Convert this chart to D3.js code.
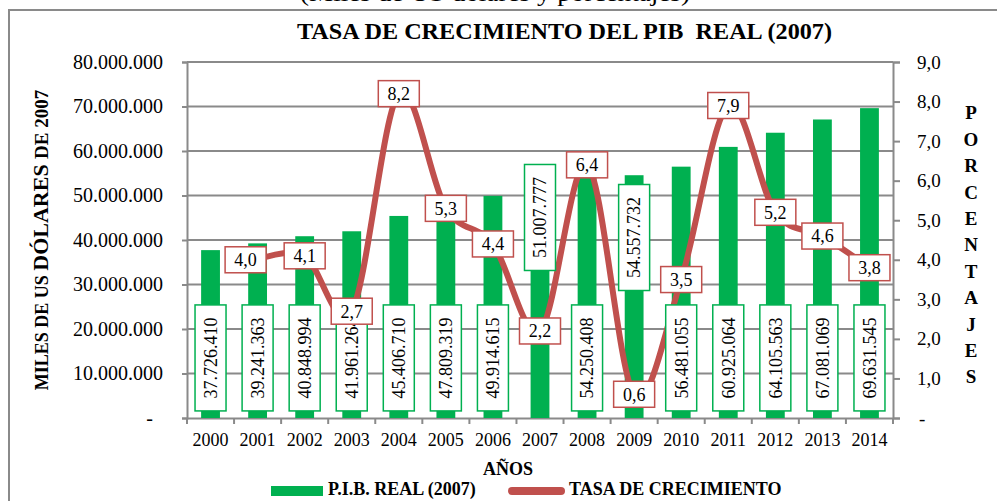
<!DOCTYPE html>
<html>
<head>
<meta charset="utf-8">
<script src="https://cdn.jsdelivr.net/npm/d3@7"></script>
<style>
  body { margin: 0; background: #fff; }
  svg { display: block; font-family: "Liberation Serif", "Times New Roman", serif; }
</style>
</head>
<body>
<svg id="chart" width="997" height="501"></svg>
<script>
// data
const years = ["2000","2001","2002","2003","2004","2005","2006","2007","2008","2009","2010","2011","2012","2013","2014"];
const pibReal = [37726410, 39241363, 40848994, 41961264, 45406710, 47809319, 49914615, 51007777, 54250408, 54557732, 56481055, 60925064, 64105563, 67081069, 69631545];
const tasa = [null, 4.0, 4.1, 2.7, 8.2, 5.3, 4.4, 2.2, 6.4, 0.6, 3.5, 7.9, 5.2, 4.6, 3.8];
const leftTicks = [0, 10e6, 20e6, 30e6, 40e6, 50e6, 60e6, 70e6, 80e6];
const rightTicks = [0, 1, 2, 3, 4, 5, 6, 7, 8, 9];

const GREEN = "#00B050", RED = "#C0504D", GRAY = "#8a8a8a";
const SERIF = "'Liberation Serif', 'Times New Roman', serif";

const svg = d3.select("#chart");
const plotL = 187, plotR = 893, plotT = 62, plotB = 418;

const es = d3.formatLocale({decimal: ",", thousands: ".", grouping: [3], currency: ["", ""]});
const fmtInt = es.format(",d");
const fmtDec = es.format(",.1f");

const x = d3.scaleBand().domain(years).range([plotL, plotR]);
const yL = d3.scaleLinear().domain([0, 80e6]).range([plotB, plotT]);
const yR = d3.scaleLinear().domain([0, 9]).range([plotB, plotT]);
const barW = x.bandwidth() * 0.4;

// outer frame
svg.append("rect")
  .attr("x", 9).attr("y", 10).attr("width", 1000).attr("height", 600)
  .attr("fill", "none").attr("stroke", GRAY).attr("stroke-width", 2);

// subtitle, cut by the top edge as in the original
svg.append("text")
  .attr("x", 300).attr("y", 1)
  .attr("textLength", 390).attr("lengthAdjust", "spacingAndGlyphs")
  .style("font-size", "24px")
  .text("(Miles de US dólares y porcentajes)");

svg.append("text")
  .attr("x", 297).attr("y", 39)
  .attr("textLength", 535).attr("lengthAdjust", "spacingAndGlyphs")
  .style("font-size", "23px").style("font-weight", "bold").style("white-space", "pre")
  .text("TASA DE CRECIMIENTO DEL PIB  REAL (2007)");

// gridlines
svg.append("g").selectAll("line")
  .data(leftTicks.slice(1))
  .enter()
  .append("line")
  .attr("x1", plotL).attr("x2", plotR)
  .attr("y1", d => yL(d)).attr("y2", d => yL(d))
  .attr("stroke", GRAY).attr("stroke-width", 2);

// left axis
const gl = svg.append("g")
  .attr("transform", "translate(" + plotL + ",0)")
  .call(d3.axisLeft(yL).tickValues(leftTicks).tickSize(5).tickPadding(19)
    .tickFormat(d => d === 0 ? "-" : fmtInt(d)));
gl.selectAll("text").style("font-size", "20px")
  .attr("dx", d => d === 0 ? -10 : 0);

// right axis
const gr = svg.append("g")
  .attr("transform", "translate(" + plotR + ",0)")
  .call(d3.axisRight(yR).tickValues(rightTicks).tickSize(7).tickPadding(17)
    .tickFormat(d => d === 0 ? "-" : fmtDec(d)));
gr.selectAll("text").style("font-size", "19px")
  .attr("dx", d => d === 0 ? 2 : 0);

// bottom axis: labels centred, ticks on category boundaries
const gb = svg.append("g")
  .attr("transform", "translate(0," + plotB + ")")
  .call(d3.axisBottom(x).tickSize(0).tickPadding(15));
gb.selectAll("text").style("font-size", "18px");
gb.selectAll(".bound")
  .data(years.concat(["end"]))
  .enter()
  .append("line")
  .attr("x1", (d, i) => plotL + i * x.step()).attr("x2", (d, i) => plotL + i * x.step())
  .attr("y1", 0).attr("y2", 6);

[gl, gr, gb].forEach(g => {
  g.attr("font-family", SERIF);
  g.selectAll("text").attr("fill", "#000");
  g.selectAll("path, line").attr("stroke", GRAY).attr("stroke-width", 2);
});

// bars
svg.append("g").selectAll("rect")
  .data(pibReal)
  .enter()
  .append("rect")
  .attr("x", (d, i) => x(years[i]) + (x.bandwidth() - barW) / 2)
  .attr("y", d => yL(d))
  .attr("width", barW)
  .attr("height", d => plotB - yL(d))
  .attr("fill", GREEN);

// growth line
const pts = tasa.map((v, i) => ({year: years[i], v: v})).filter(d => d.v !== null);
const line = d3.line()
  .x(d => x(d.year) + x.bandwidth() / 2)
  .y(d => yR(d.v))
  .curve(d3.curveCardinal.tension(0));
svg.append("path")
  .datum(pts)
  .attr("d", line)
  .attr("fill", "none")
  .attr("stroke", RED).attr("stroke-width", 6)
  .attr("stroke-linejoin", "round").attr("stroke-linecap", "round");

// bar labels (rotated, in boxes); two of them were lifted in the original
const liftedLabel = {"2007": 45.06e6, "2009": 40.56e6};
const bl = svg.append("g").selectAll("g")
  .data(pibReal)
  .enter()
  .append("g")
  .attr("transform", (d, i) => "translate(" + (x(years[i]) + x.bandwidth() / 2) + "," +
    yL(liftedLabel[years[i]] || 13.5e6) + ")");
bl.append("rect")
  .attr("x", -15.5).attr("y", -53).attr("width", 31).attr("height", 106)
  .attr("fill", "#fff").attr("stroke", GREEN).attr("stroke-width", 1.5);
bl.append("text")
  .attr("transform", "rotate(-90)")
  .attr("text-anchor", "middle").attr("dy", "0.35em")
  .style("font-size", "18px")
  .text(d => fmtInt(d));

// growth labels
const shiftLabel = {"2001": -12};
const tl = svg.append("g").selectAll("g")
  .data(pts)
  .enter()
  .append("g")
  .attr("transform", d => "translate(" + (x(d.year) + x.bandwidth() / 2 + (shiftLabel[d.year] || 0)) + "," + yR(d.v) + ")");
tl.append("rect")
  .attr("x", -20.5).attr("y", -13).attr("width", 41).attr("height", 26)
  .attr("fill", "#fff").attr("stroke", RED).attr("stroke-width", 1.5);
tl.append("text")
  .attr("text-anchor", "middle").attr("dy", "0.35em")
  .style("font-size", "18px")
  .text(d => fmtDec(d.v));

// axis titles
const lt = svg.append("text")
  .attr("transform", "translate(48,240) rotate(-90)")
  .attr("text-anchor", "middle")
  .style("font-weight", "bold");
lt.append("tspan").style("font-size", "18px").text("MILES DE US ");
lt.append("tspan").style("font-size", "22px").text("DÓLARES ");
lt.append("tspan").style("font-size", "19px").text("DE 2007");

svg.append("g").selectAll("text")
  .data("PORCENTAJES".split(""))
  .enter()
  .append("text")
  .attr("x", 971)
  .attr("y", (d, i) => 112.7 + i * 26.4)
  .attr("dy", "0.35em")
  .attr("text-anchor", "middle")
  .style("font-size", "19px").style("font-weight", "bold")
  .text(d => d);

svg.append("text")
  .attr("x", 508).attr("y", 475)
  .attr("text-anchor", "middle")
  .style("font-size", "18px").style("font-weight", "bold")
  .text("AÑOS");

// legend
svg.append("rect")
  .attr("x", 271).attr("y", 486).attr("width", 52).attr("height", 10)
  .attr("fill", GREEN);
svg.append("text")
  .attr("x", 328).attr("y", 495)
  .style("font-size", "18px").style("font-weight", "bold")
  .text("P.I.B. REAL (2007)");
svg.append("line")
  .attr("x1", 512).attr("x2", 561).attr("y1", 491).attr("y2", 491)
  .attr("stroke", RED).attr("stroke-width", 8).attr("stroke-linecap", "round");
svg.append("text")
  .attr("x", 569).attr("y", 495)
  .style("font-size", "18px").style("font-weight", "bold")
  .text("TASA DE CRECIMIENTO");
</script>
</body>
</html>
